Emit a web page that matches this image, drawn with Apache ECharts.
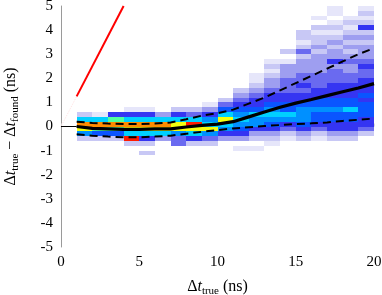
<!DOCTYPE html>
<html>
<head>
<meta charset="utf-8">
<script src="https://cdn.jsdelivr.net/npm/echarts@6/dist/echarts.min.js"></script>
<style>
  html, body { margin: 0; padding: 0; background: #fff; }
  #chart { width: 382px; height: 295px; }
</style>
</head>
<body>
<div id="chart"></div>
<script>
// ---- 2D histogram: x bins of width 1 (left edges), y bins of height 0.2 ----
const binHeight = 0.2;
const colLeft = [1, 2, 3, 4, 5, 6, 7, 8, 9, 10, 11, 12, 13, 14, 15, 16, 17, 18, 19];
// lower edge of the first y bin of each column
const colStart = [-0.6, -0.6, -0.6, -0.8, -1.2, -0.6, -0.8, -0.8, -0.8, -0.6,
                  -1.0, -1.0, -0.8, -0.6, -0.6, -0.6, -0.6, -0.6, -0.4];
// density level of each y bin, from the bottom up (0 = empty)
const col1  = [2, 7, 10, 11, 8, 2];
const col2  = [2, 6, 9, 11, 8, 1];
const col3  = [2, 6, 9, 11, 9, 5];
const col4  = [2, 12, 8, 10, 11, 8, 5, 1];
const col5  = [2, 0, 2, 5, 8, 10, 11, 8, 5, 1];
const col6  = [3, 8, 10, 11, 8, 3];
const col7  = [4, 4, 7, 10, 10, 8, 5, 2];
const col8  = [2, 5, 8, 10, 12, 8, 4, 2];
const col9  = [2, 4, 7, 10, 8, 7, 5, 3, 1];
const col10 = [3, 5, 7, 8, 10, 8, 6, 4, 2];
const col11 = [1, 0, 3, 5, 6, 7, 8, 7, 6, 5, 4, 3, 2];
const col12 = [1, 0, 2, 3, 5, 7, 7, 8, 6, 5, 5, 4, 3, 2, 1, 1];
const col13 = [1, 2, 3, 5, 6, 7, 8, 7, 6, 5, 5, 4, 3, 3, 2, 1, 2, 1];
const col14 = [1, 2, 4, 5, 7, 8, 6, 6, 5, 5, 4, 4, 4, 3, 3, 3, 1, 0, 2];
const col15 = [2, 3, 5, 6, 7, 7, 7, 6, 5, 5, 4, 5, 4, 4, 3, 3, 3, 2, 4, 2, 1, 2, 2];
const col16 = [1, 2, 4, 5, 6, 6, 7, 6, 6, 5, 5, 4, 4, 4, 3, 3, 3, 3, 2, 3, 2, 2, 1, 2, 0, 1];
const col17 = [2, 3, 5, 5, 6, 6, 7, 6, 6, 5, 5, 5, 4, 4, 4, 3, 5, 3, 3, 2, 3, 2, 1, 2, 1, 0, 1, 1];
const col18 = [2, 3, 5, 5, 6, 6, 8, 6, 6, 5, 5, 5, 4, 4, 3, 3, 4, 3, 2, 3, 2, 3, 2, 1, 2, 1];
const col19 = [2, 4, 5, 5, 6, 6, 6, 5, 6, 5, 5, 5, 4, 4, 5, 4, 3, 3, 3, 2, 3, 2, 5, 2, 1, 2, 1];
const columns = [col1, col2, col3, col4, col5, col6, col7, col8, col9, col10,
                 col11, col12, col13, col14, col15, col16, col17, col18, col19];

// ---- curves ----
const curveX    = [1, 2, 3, 4, 5, 6, 7, 8, 9, 10, 11, 12, 13, 14, 15, 16, 17, 18, 19, 20];
const meanY     = [0.0, -0.08, -0.1, -0.12, -0.12, -0.1, -0.1, -0.02, 0.05, 0.1, 0.2, 0.4, 0.6, 0.8, 0.97, 1.12, 1.28, 1.44, 1.6, 1.78];
const upperY    = [0.2, 0.15, 0.12, 0.1, 0.1, 0.12, 0.17, 0.3, 0.45, 0.55, 0.7, 0.95, 1.2, 1.5, 1.8, 2.1, 2.4, 2.7, 3.0, 3.25];
const lowerY    = [-0.32, -0.38, -0.42, -0.45, -0.45, -0.42, -0.38, -0.3, -0.22, -0.15, -0.08, -0.03, 0.02, 0.06, 0.1, 0.13, 0.17, 0.23, 0.28, 0.33];
const startX    = [0, 1];
const startY    = [0, 0];
const redX      = [1, 4];
const redY      = [1.25, 5];
const redFaintX = [0, 1];
const redFaintY = [0, 1.25];

const xTicks = [0, 5, 10, 15, 20];
const yTicks = [-5, -4, -3, -2, -1, 0, 1, 2, 3, 4, 5];

const palette = ['rgba(0,0,0,0)', '#e6e6fa', '#c8c8f5', '#9e9ef0', '#6a6af0', '#3535f2',
                 '#0a55ff', '#0090ff', '#00d0ff', '#50ffa0', '#f4ff10', '#ff8c00', '#ff1a00'];

const cells = [];
columns.forEach((vals, c) => {
  vals.forEach((lvl, k) => {
    if (lvl > 0) cells.push([colLeft[c], +(colStart[c] + k * binHeight).toFixed(2), lvl]);
  });
});
const zip = (xs, ys) => xs.map((x, i) => [x, ys[i]]);

const FONT = 'Liberation Serif';
const rich = {
  d: { fontFamily: FONT, fontSize: 16, color: '#000', lineHeight: 20 },
  i: { fontFamily: FONT, fontSize: 16, fontStyle: 'italic', color: '#000', lineHeight: 20 },
  s: { fontFamily: FONT, fontSize: 11, color: '#000', lineHeight: 11, verticalAlign: 'bottom' }
};
const chart = echarts.init(document.getElementById('chart'), null, { renderer: 'canvas' });
chart.setOption({
  animation: false,
  backgroundColor: '#fff',
  grid: { left: 61, right: 8, top: 6, bottom: 48, containLabel: false, outerBoundsMode: 'none' },
  xAxis: {
    type: 'value', min: 0, max: 20, interval: 5,
    axisLine: { show: true, lineStyle: { color: '#efefef', width: 1 } },
    axisTick: { show: true, inside: true, length: 3, lineStyle: { color: '#dcdcdc' } },
    minorTick: { show: true, splitNumber: 5, length: 2, lineStyle: { color: '#e6e6e6' } },
    splitLine: { show: false },
    axisLabel: { color: '#000', fontFamily: FONT, fontSize: 15, margin: 8,
      formatter: v => (xTicks.includes(v) ? String(v) : '') },
    name: '{d|Δ}{i|t}{s|true}{d| (ns)}',
    nameLocation: 'middle', nameGap: 30,
    nameTextStyle: { rich }
  },
  yAxis: {
    type: 'value', min: -5, max: 5, interval: 1,
    axisLine: { show: true, lineStyle: { color: '#9a9a9a', width: 1 } },
    axisTick: { show: false },
    splitLine: { show: false },
    axisLabel: { color: '#000', fontFamily: FONT, fontSize: 15, margin: 8,
      formatter: v => (yTicks.includes(v) ? String(v) : '') },
    name: '{d|Δ}{i|t}{s|true}{d| − Δ}{i|t}{s|found}{d| (ns)}',
    nameLocation: 'middle', nameGap: 40,
    nameTextStyle: { rich }
  },
  series: [
    {
      type: 'custom', data: cells, clip: true, z: 1,
      encode: { x: 0, y: 1 },
      renderItem: (params, api) => {
        const x = api.value(0), y = api.value(1), lvl = api.value(2);
        const p0 = api.coord([x, y + binHeight]);
        const p1 = api.coord([x + 1, y]);
        const x0 = Math.round(p0[0]), y0 = Math.round(p0[1]);
        const x1 = Math.round(p1[0]), y1 = Math.round(p1[1]);
        return { type: 'rect', shape: { x: x0, y: y0, width: x1 - x0, height: y1 - y0 },
                 style: { fill: palette[lvl] } };
      }
    },
    { type: 'line', data: zip(redFaintX, redFaintY), symbol: 'none', z: 3,
      lineStyle: { color: 'rgba(255,0,0,0.12)', width: 1, type: 'dotted' } },
    { type: 'line', data: zip(redX, redY), symbol: 'none', z: 3,
      lineStyle: { color: '#ff0000', width: 2 } },
    { type: 'line', data: zip(startX, startY), symbol: 'none', z: 3,
      lineStyle: { color: '#000', width: 1.2 } },
    { type: 'line', data: zip(curveX, upperY), symbol: 'none', z: 4,
      lineStyle: { color: '#000', width: 2, type: [8, 5] } },
    { type: 'line', data: zip(curveX, lowerY), symbol: 'none', z: 4,
      lineStyle: { color: '#000', width: 2, type: [8, 5] } },
    { type: 'line', data: zip(curveX, meanY), symbol: 'none', z: 5,
      lineStyle: { color: '#000', width: 3.2 } }
  ]
});
</script>
</body>
</html>
